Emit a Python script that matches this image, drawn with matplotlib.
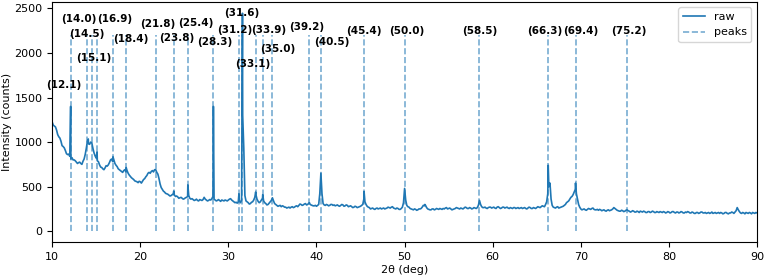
import numpy as np
import matplotlib
matplotlib.use("Agg")
import matplotlib.pyplot as plt

# raw scan, every 0.25 deg from 10 to 90
grid_start = 10.0
grid_step = 0.25
counts_grid = [
    1225, 1180, 1135, 1060, 1010, 950, 905, 860,
    840, 825, 800, 775, 770, 760, 785, 860,
    1010, 975, 990, 880, 820, 780, 720, 700,
    710, 730, 770, 810, 800, 740, 700, 680,
    660, 690, 680, 630, 600, 580, 560, 545,
    555, 560, 590, 625, 660, 670, 665, 690,
    640, 530, 470, 440, 420, 405, 400, 420,
    390, 385, 375, 370, 365, 380, 400, 360,
    355, 350, 345, 355, 345, 380, 350, 345,
    350, 390, 350, 345, 345, 350, 340, 345,
    350, 365, 340, 320, 315, 340, 350, 930,
    340, 320, 310, 330, 380, 360, 320, 350,
    340, 310, 300, 330, 375, 310, 290, 285,
    275, 280, 270, 265, 260, 275, 270, 285,
    290, 300, 295, 310, 300, 305, 290, 285,
    280, 300, 650, 310, 290, 295, 290, 300,
    295, 290, 285, 290, 295, 285, 290, 280,
    275, 270, 275, 270, 280, 300, 330, 280,
    265, 255, 250, 255, 250, 260, 255, 250,
    260, 265, 270, 260, 250, 255, 245, 270,
    480, 290, 270, 250, 240, 245, 240, 250,
    270, 285, 265, 245, 240, 250, 245, 250,
    255, 245, 250, 265, 255, 250, 245, 255,
    260, 250, 255, 260, 265, 255, 260, 255,
    260, 265, 345, 275, 265, 260, 265, 270,
    265, 260, 270, 265, 260, 270, 265, 260,
    265, 255, 265, 260, 255, 265, 260, 255,
    260, 265, 255, 260, 265, 270, 275, 280,
    300, 420, 540, 290, 265, 270, 260, 270,
    280, 300, 330, 360, 390, 440, 420, 300,
    250, 245, 240, 245, 250, 255, 245, 240,
    235, 240, 235, 230, 235, 230, 240, 265,
    245, 230, 225, 230, 225, 240, 225, 220,
    225, 215, 220, 225, 215, 220, 210, 220,
    215, 220, 210, 215, 220, 210, 215, 210,
    215, 210, 220, 205, 215, 210, 215, 205,
    210, 215, 205, 210, 200, 210, 205, 215,
    205, 200, 210, 205, 200, 210, 205, 200,
    205, 200, 210, 195, 205, 210, 215, 265,
    220, 200, 205, 210, 200, 205, 210, 200,
    205,
]

# readings halfway between grid points (10.125, 10.375, ...) - the scan is noisy
counts_mid = [
    1190, 1170, 1085, 1045, 960, 935, 870, 865,
    810, 800, 790, 760, 775, 750, 810, 930,
    980, 1000, 930, 845, 790, 745, 715, 690,
    735, 745, 800, 780, 760, 725, 690, 670,
    680, 665, 650, 615, 590, 565, 555, 560,
    540, 580, 610, 650, 650, 680, 690, 660,
    590, 490, 450, 425, 415, 395, 410, 405,
    395, 370, 380, 360, 375, 390, 370, 365,
    345, 360, 340, 350, 355, 360, 340, 355,
    365, 360, 340, 355, 335, 345, 350, 340,
    360, 350, 330, 325, 330, 320, 1300, 400,
    330, 305, 325, 350, 410, 335, 330, 370,
    320, 295, 315, 345, 340, 300, 280, 290,
    285, 270, 260, 270, 270, 265, 280, 275,
    305, 290, 305, 295, 315, 295, 285, 290,
    290, 420, 420, 295, 300, 285, 300, 290,
    285, 295, 280, 300, 280, 295, 275, 285,
    265, 280, 265, 275, 290, 360, 300, 270,
    250, 260, 245, 260, 255, 250, 260, 255,
    270, 260, 275, 255, 260, 245, 255, 320,
    350, 275, 255, 245, 250, 235, 250, 255,
    290, 290, 250, 240, 250, 240, 255, 245,
    250, 255, 260, 250, 260, 240, 250, 265,
    255, 260, 250, 270, 255, 265, 250, 265,
    255, 290, 300, 265, 270, 255, 270, 260,
    270, 255, 275, 255, 270, 260, 270, 255,
    260, 265, 255, 265, 260, 255, 265, 250,
    270, 255, 265, 255, 275, 265, 285, 275,
    330, 500, 360, 270, 260, 275, 265, 275,
    290, 320, 340, 380, 410, 470, 360, 270,
    240, 250, 235, 255, 245, 260, 240, 245,
    245, 230, 240, 225, 240, 235, 250, 255,
    235, 225, 235, 220, 235, 230, 215, 230,
    215, 225, 210, 220, 225, 210, 220, 210,
    225, 210, 220, 210, 215, 220, 205, 220,
    205, 220, 210, 215, 205, 220, 205, 215,
    220, 205, 215, 200, 210, 200, 215, 205,
    210, 205, 200, 215, 205, 200, 210, 210,
    195, 210, 200, 205, 215, 200, 230, 240,
    205, 210, 195, 205, 210, 195, 205, 210,
]

# sharp peak tops that fall between the readings above
apex_x = [12.1, 14.1, 15.1, 16.9, 18.4, 23.8, 25.4, 28.3, 31.2, 31.6,
          33.1, 33.9, 39.2, 45.4, 52.3, 66.3, 69.4]
apex_counts = [1400, 1035, 890, 835, 715, 450, 520, 1400, 420, 2445,
               440, 410, 320, 445, 300, 740, 540]

# detected peaks and where their labels ended up
peaks = [12.1, 14.0, 14.5, 15.1, 16.9, 18.4, 21.8, 23.8, 25.4, 28.3, 31.2, 31.6,
         33.1, 33.9, 35.0, 39.2, 40.5, 45.4, 50.0, 58.5, 66.3, 69.4, 75.2]
label_x = [11.3, 13.0, 13.93, 14.76, 17.13, 18.97, 22.03, 24.14, 26.3, 28.41, 30.75, 31.49,
           32.76, 34.58, 35.57, 38.86, 41.75, 45.4, 50.23, 58.5, 65.96, 69.97, 75.43]
label_y = [1637, 2384, 2216, 1947, 2384, 2160, 2328, 2171, 2335, 2122, 2260, 2447,
           1880, 2253, 2040, 2290, 2122, 2245, 2245, 2245, 2245, 2245, 2245]

x_grid = grid_start + grid_step * np.arange(len(counts_grid))
x_mid = grid_start + grid_step * (np.arange(len(counts_mid)) + 0.5)
x = np.concatenate([x_grid, x_mid, apex_x])
y = np.concatenate([counts_grid, counts_mid, apex_counts])
order = np.argsort(x, kind="stable")
x, y = x[order], y[order]

fig = plt.figure(figsize=(7.67, 2.77), dpi=100)
ax = fig.add_axes([0.068, 0.126, 0.919, 0.867])

ax.plot(x, y, color="tab:blue", lw=1.2, label="raw")
ax.vlines(peaks, 0, 2200, colors="tab:blue", alpha=0.6, linestyles="--", lw=1.2, label="peaks")
for lx, ly, p in zip(label_x, label_y, peaks):
    ax.text(lx, ly, "(%.1f)" % p, ha="center", va="center", fontsize=7.5, fontweight="bold")

ax.set_xlim(10, 90)
ax.set_ylim(-122, 2572)
ax.set_xlabel("2θ (deg)", fontsize=8, labelpad=2)
ax.set_ylabel("Intensity (counts)", fontsize=8, labelpad=2)
ax.tick_params(labelsize=8)
ax.legend(loc="upper right", fontsize=8)

fig.savefig("out.png", dpi=100)
